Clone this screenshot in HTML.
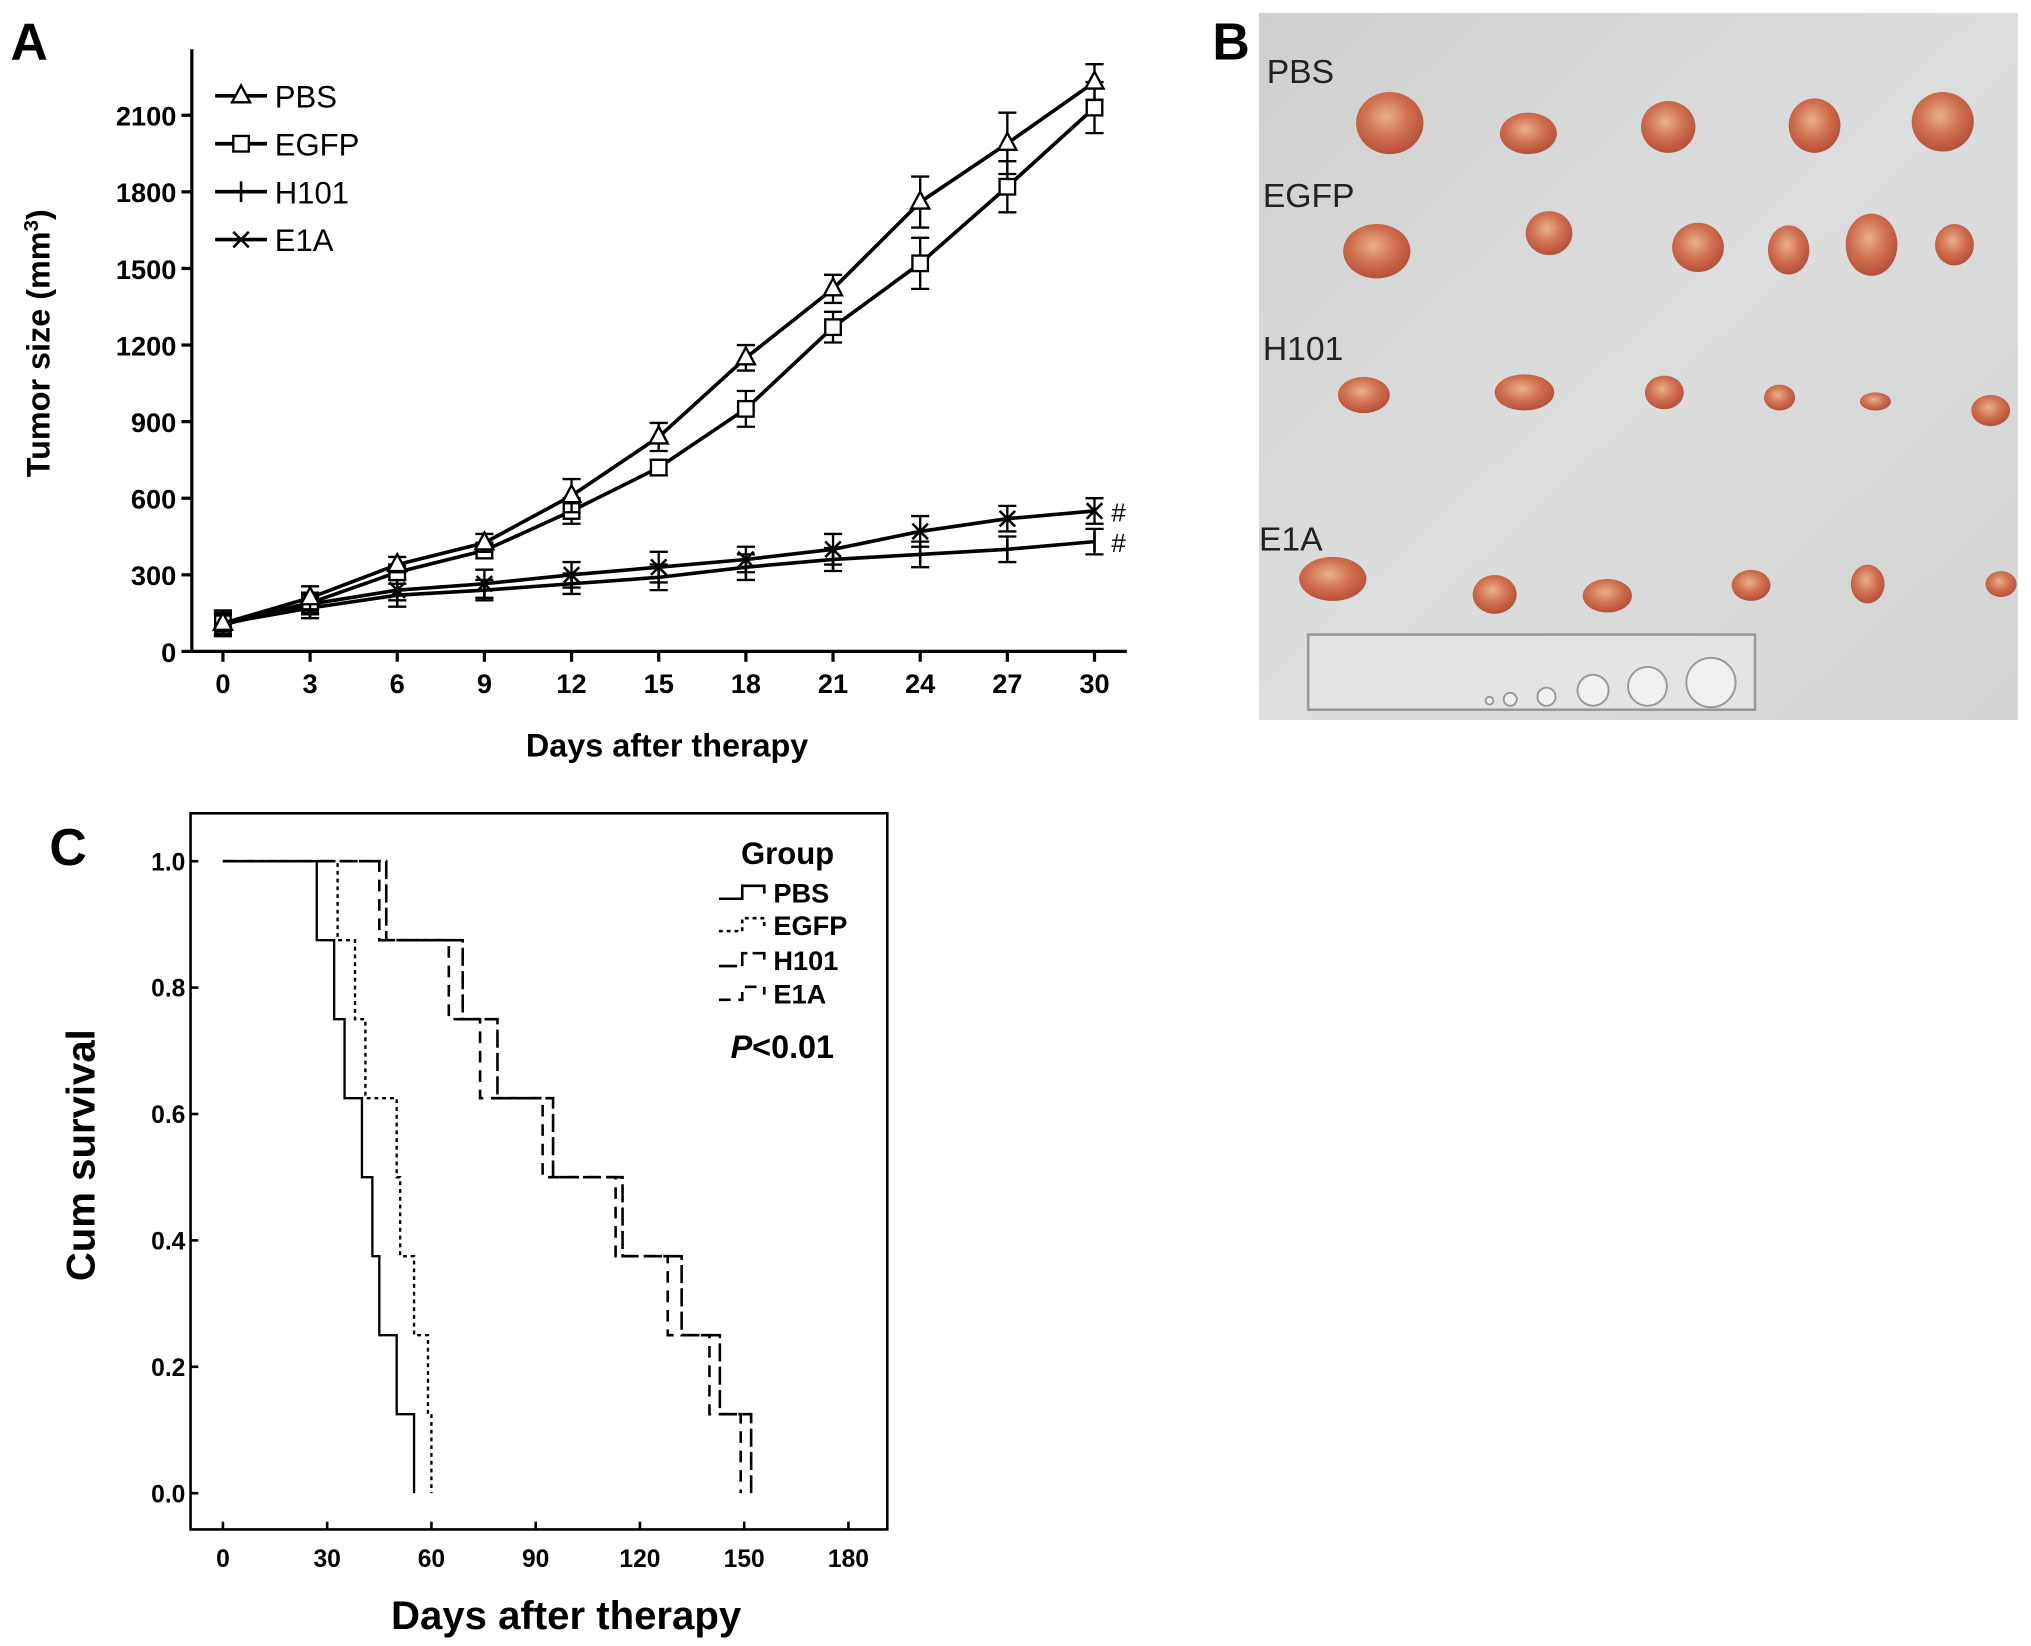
<!DOCTYPE html>
<html><head><meta charset="utf-8"><style>
html,body{margin:0;padding:0;background:#fff;}
svg{display:block;}
text{font-family:"Liberation Sans",Arial,sans-serif;}
</style></head><body>
<svg id="fig" width="2031" height="1646" viewBox="0 0 1568 1271" xmlns="http://www.w3.org/2000/svg">
<defs>
<radialGradient id="tum" cx="45%" cy="40%" r="60%">
<stop offset="0" stop-color="#e9b08a"/><stop offset="0.55" stop-color="#d0704f"/><stop offset="1" stop-color="#b5503a"/>
</radialGradient>
<linearGradient id="bg" x1="0" y1="0" x2="1" y2="1">
<stop offset="0" stop-color="#cfcfcf"/><stop offset="0.5" stop-color="#dcdede"/><stop offset="1" stop-color="#d2d4d4"/>
</linearGradient>
</defs>
<text x="8" y="46" font-size="40" font-weight="bold">A</text>
<text x="936" y="46" font-size="40" font-weight="bold">B</text>
<text x="38" y="668" font-size="40" font-weight="bold">C</text>
<g id="chartA"></g>
<g id="photoB"></g>
<g id="chartC"></g>
</svg>
<script>
// ---- Panel A data ----
const daysA = [0,3,6,9,12,15,18,21,24,27,30];
const yTicksA = [0,300,600,900,1200,1500,1800,2100];
const pbsVals = [110,210,340,425,610,840,1150,1420,1760,1990,2230];
const pbsErr = [50,45,30,35,65,55,50,55,100,120,70];
const egfpVals = [110,190,310,395,550,720,950,1270,1520,1820,2130];
const egfpErr = [40,40,30,30,50,30,70,60,100,100,100];
const h101Vals = [110,170,220,240,265,290,330,360,380,400,430];
const h101Err = [50,40,45,40,40,50,50,45,50,50,50];
const e1aVals = [105,185,240,265,300,330,360,400,470,520,550];
const e1aErr = [40,40,40,55,50,60,50,60,60,50,50];
// ---- Panel C data ----
const xTicksC = [0,30,60,90,120,150,180];
const yTicksC = [0,0.2,0.4,0.6,0.8,1.0];
const pbsDrop = [27,32,35,40,43,45,50,55];
const egfpDrop = [33,38,41,50,51,55,59,60];
const h101Drop = [47,69,79,95,115,132,143,152];
const e1aDrop = [45,65,74,92,113,128,140,149];

const NS='http://www.w3.org/2000/svg';
function mk(parent,tag,attrs,text){const e=document.createElementNS(NS,tag);for(const k in attrs)e.setAttribute(k,attrs[k]);if(text!==undefined)e.textContent=text;parent.appendChild(e);return e;}

// ===== Panel A =====
const A=document.getElementById('chartA');
const xA=d=>172+(845-172)*d/30;
const yA=v=>503-(503-89)*v/2100;
let ax=mk(A,'line',{x1:148,y1:38,x2:148,y2:503,stroke:'#000','stroke-width':2.5});

ax=mk(A,'line',{x1:148,y1:503,x2:870,y2:503,stroke:'#000','stroke-width':2.5});

yTicksA.forEach(v=>{
  let t=mk(A,'line',{x1:140,y1:yA(v),x2:148,y2:yA(v),stroke:'#000','stroke-width':2.5});
  
  let l=mk(A,'text',{x:136,y:yA(v)+8,'font-size':21,'font-weight':'bold','text-anchor':'end'},v);
  
});
daysA.forEach(d=>{
  let t=mk(A,'line',{x1:xA(d),y1:503,x2:xA(d),y2:511,stroke:'#000','stroke-width':2.5});
  
  let l=mk(A,'text',{x:xA(d),y:535,'font-size':21,'font-weight':'bold','text-anchor':'middle'},d);
  
});
let tt=mk(A,'text',{x:515,y:584,'font-size':25,'font-weight':'bold','text-anchor':'middle'},'Days after therapy');

tt=mk(A,'text',{transform:'translate(38,265) rotate(-90)','font-size':25,'font-weight':'bold','text-anchor':'middle'});

tt.appendChild(document.createTextNode('Tumor size (mm'));
const sup=mk(tt,'tspan',{dy:-9,'font-size':16},'3');
const cl=mk(tt,'tspan',{dy:9},')');

function marker(g,type,x,y){
  if(type==='tri') mk(g,'polygon',{points:`${x},${y-8} ${x-7},${y+5} ${x+7},${y+5}`,fill:'#fff',stroke:'#000','stroke-width':1.8});
  else if(type==='sq') mk(g,'rect',{x:x-6,y:y-6,width:12,height:12,fill:'#fff',stroke:'#000','stroke-width':1.8});
  else if(type==='plus'){mk(g,'line',{x1:x,y1:y-8,x2:x,y2:y+8,stroke:'#000','stroke-width':2});}
  else if(type==='x'){mk(g,'line',{x1:x-6,y1:y-6,x2:x+6,y2:y+6,stroke:'#000','stroke-width':2});mk(g,'line',{x1:x-6,y1:y+6,x2:x+6,y2:y-6,stroke:'#000','stroke-width':2});}
}
function seriesA(name,vals,errs,type){
  const g=mk(A,'g',{});
  
  const p=mk(g,'polyline',{points:vals.map((v,i)=>xA(daysA[i])+','+yA(v)).join(' '),fill:'none',stroke:'#000','stroke-width':2.8});
  
  vals.forEach((v,i)=>{
    const x=xA(daysA[i]);
    const eb=mk(g,'path',{d:`M${x},${yA(v-errs[i])}V${yA(v+errs[i])}M${x-7},${yA(v-errs[i])}h14M${x-7},${yA(v+errs[i])}h14`,stroke:'#000','stroke-width':1.8,fill:'none'});
    
    marker(g,type,x,yA(v));
  });
}
seriesA('h101',h101Vals,h101Err,'plus');
seriesA('e1a',e1aVals,e1aErr,'x');
seriesA('egfp',egfpVals,egfpErr,'sq');
seriesA('pbs',pbsVals,pbsErr,'tri');
let h=mk(A,'text',{x:858,y:yA(e1aVals[10])+8,'font-size':20},'#');
h=mk(A,'text',{x:858,y:yA(h101Vals[10])+8,'font-size':20},'#');
[['PBS','tri',74],['EGFP','sq',111],['H101','plus',148],['E1A','x',185]].forEach(([n,t,y])=>{
  const g=mk(A,'g',{});
  mk(g,'line',{x1:166,y1:y,x2:206,y2:y,stroke:'#000','stroke-width':2.8});
  marker(g,t,186,y);
  mk(g,'text',{x:212,y:y+9,'font-size':24},n);
});

// ===== Panel B =====
const B=document.getElementById('photoB');
let r=mk(B,'rect',{x:972,y:10,width:586,height:546,fill:'url(#bg)'});
[['PBS',978,64],['EGFP',975,160],['H101',975,278],['E1A',972,425]].forEach(([n,x,y])=>{
  const t=mk(B,'text',{x:x,y:y,'font-size':26,fill:'#222'},n);
});
const blobs=[[1073,95,26,24],[1180,103,22,16],[1288,98,21,20],[1401,97,20,21],[1500,94,24,23],
[1063,194,26,21],[1196,180,18,17],[1311,191,20,19],[1381,193,16,19],[1445,189,20,24],[1509,189,15,16],
[1053,305,20,14],[1177,303,23,14],[1285,303,15,13],[1374,307,12,10],[1448,310,12,7],[1537,317,15,12],
[1029,447,26,17],[1154,459,17,15],[1241,460,19,13],[1352,452,15,12],[1442,451,13,15],[1545,451,12,10]];
blobs.forEach(b=>{const e=mk(B,'ellipse',{cx:b[0],cy:b[1],rx:b[2],ry:b[3],fill:'url(#tum)'});});
const ru=mk(B,'g',{});
mk(ru,'rect',{x:1010,y:490,width:345,height:58,fill:'#e4e4e4',stroke:'#999','stroke-width':2});
[[1150,541,3],[1166,540,5],[1194,538,7],[1230,533,12],[1272,530,15],[1321,527,19]].forEach(c=>mk(ru,'circle',{cx:c[0],cy:c[1],r:c[2],fill:'#f0f0f0',stroke:'#999','stroke-width':1.5}));

// ===== Panel C =====
const C=document.getElementById('chartC');
const xC=d=>172+(655-172)*d/180;
const yC=v=>1153-(1153-665)*v;
r=mk(C,'rect',{x:147,y:628,width:538,height:553,fill:'none',stroke:'#000','stroke-width':2});
yTicksC.forEach(v=>{
  let t=mk(C,'line',{x1:147,y1:yC(v),x2:153,y2:yC(v),stroke:'#000','stroke-width':2});
  let l=mk(C,'text',{x:143,y:yC(v)+7,'font-size':19,'font-weight':'bold','text-anchor':'end'},v.toFixed(1));
});
xTicksC.forEach(d=>{
  let t=mk(C,'line',{x1:xC(d),y1:1181,x2:xC(d),y2:1175,stroke:'#000','stroke-width':2});
  let l=mk(C,'text',{x:xC(d),y:1210,'font-size':19,'font-weight':'bold','text-anchor':'middle'},d);
});
tt=mk(C,'text',{x:437,y:1258,'font-size':31,'font-weight':'bold','text-anchor':'middle'},'Days after therapy');
tt=mk(C,'text',{transform:'translate(73,892) rotate(-90)','font-size':31,'font-weight':'bold','text-anchor':'middle'},'Cum survival');
function km(name,drops,dash,w){
  let s=1,d=`M${xC(0)},${yC(1)}`;
  drops.forEach(t=>{d+=`H${xC(t)}`;s-=1/drops.length;d+=`V${yC(Math.max(0,s))}`;});
  const p=mk(C,'path',{d:d,fill:'none',stroke:'#000','stroke-width':w,'stroke-dasharray':dash});
  
}
km('pbs',pbsDrop,'none',1.8);
km('egfp',egfpDrop,'3 3',1.8);
km('h101',h101Drop,'14 4',2);
km('e1a',e1aDrop,'9 6',2);
tt=mk(C,'text',{x:608,y:667,'font-size':24,'font-weight':'bold','text-anchor':'middle'},'Group');
[['PBS',689,'none'],['EGFP',714,'3 3'],['H101',741,'14 4'],['E1A',767,'9 6']].forEach(([n,y,da])=>{
  const g=mk(C,'g',{});
  mk(g,'path',{d:`M555,${y+5}H573V${y-5}H590V${y+1}`,fill:'none',stroke:'#000','stroke-width':2,'stroke-dasharray':da});
  mk(g,'text',{x:597,y:y+8,'font-size':21,'font-weight':'bold'},n);
});
tt=mk(C,'text',{x:564,y:817,'font-size':25,'font-weight':'bold'});
mk(tt,'tspan',{'font-style':'italic'},'P');mk(tt,'tspan',{},'<0.01');
</script>
</body></html>
